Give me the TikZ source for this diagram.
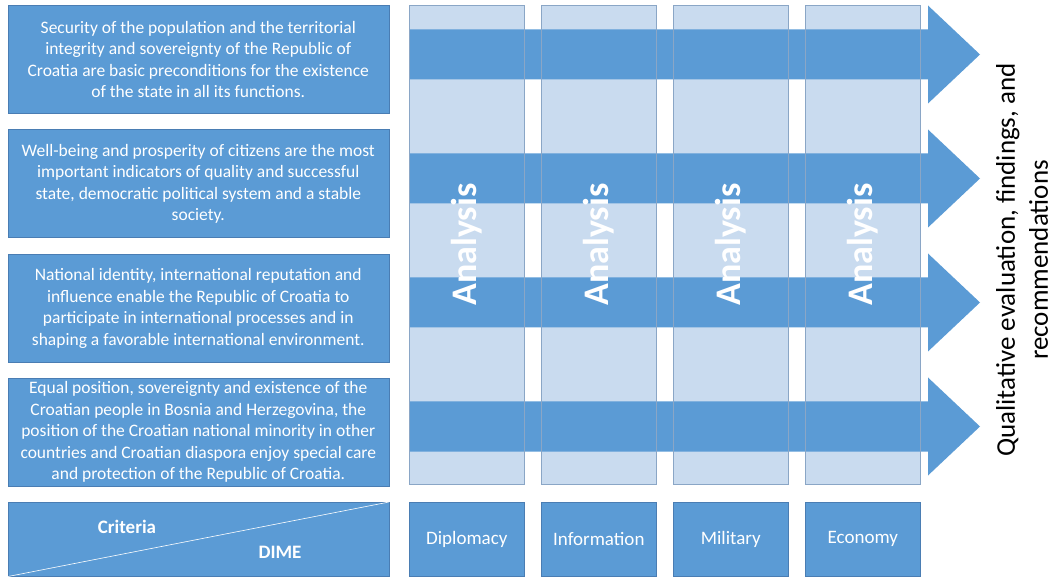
\documentclass[tikz,border=0pt]{standalone}
\usepackage{fontspec}
\setmainfont{Carlito}
\definecolor{boxblue}{HTML}{5B9BD5}
\definecolor{boxedge}{HTML}{4A7DB3}
\definecolor{colfill}{HTML}{C9DBEF}
\definecolor{coledge}{HTML}{8AA6C6}
\begin{document}
\begin{tikzpicture}[x=1pt,y=-1pt,
  crit/.style={draw=boxedge, line width=0.6pt, fill=boxblue, text=white,
    align=center, anchor=north west, minimum width=381pt, minimum height=108pt,
    inner sep=0pt, font=\fontsize{17.5}{21.5}\selectfont},
  column/.style={fill=colfill, draw=none, anchor=north west,
    minimum width=115pt, minimum height=479pt, inner sep=0pt},
  colline/.style={draw=coledge, line width=0.6pt},
  dime/.style={draw=boxedge, line width=0.6pt, fill=boxblue, text=white,
    anchor=north west, minimum width=115pt, minimum height=74pt, inner sep=0pt,
    font=\fontsize{19}{22}\selectfont},
  analysis/.style={rotate=90, text=white, font=\fontsize{36}{36}\selectfont\bfseries},
  band/.style={fill=boxblue}]
\useasboundingbox (0,0) rectangle (1053,577);

% criteria boxes
\node[crit] (c1) at (7.5,5) {Security of the population and the territorial\\integrity and sovereignty of the Republic of\\Croatia are basic preconditions for the existence\\of the state in all its functions.};
\node[crit] (c2) at (7.5,129.5) {Well-being and prosperity of citizens are the most\\important indicators of quality and successful\\state, democratic political system and a stable\\society.};
\node[crit] (c3) at (7.5,254) {National identity, international reputation and\\influence enable the Republic of Croatia to\\participate in international processes and in\\shaping a favorable international environment.};
\node[crit] (c4) at (7.5,378) {Equal position, sovereignty and existence of the\\Croatian people in Bosnia and Herzegovina, the\\position of the Croatian national minority in other\\countries and Croatian diaspora enjoy special care\\and protection of the Republic of Croatia.};

% corner box with diagonal split
\node[crit, minimum height=74pt] (corner) at (7.5,502) {};
\draw[white, line width=0.6pt] (corner.south west) -- (corner.north east);
\node[text=white, font=\fontsize{19}{22}\selectfont\bfseries] (crit) at (127,527) {Criteria};
\node[text=white, font=\fontsize{19}{22}\selectfont\bfseries] (dimelabel) at (280,552) {DIME};

% DIME columns
\node[column] (k1) at (409,5) {};
\node[column] (k2) at (541,5) {};
\node[column] (k3) at (673,5) {};
\node[column] (k4) at (805,5) {};

% criteria bands with arrow heads
\foreach \y in {54.5,178.5,302.5,426.5}
  \fill[band] (409,{\y-25}) -- (928,{\y-25}) -- (928,{\y-49}) -- (980,\y)
     -- (928,{\y+49}) -- (928,{\y+25}) -- (409,{\y+25}) -- cycle;

% column outlines and labels
\foreach \k in {k1,k2,k3,k4} {
  \draw[colline] (\k.north west) rectangle (\k.south east);
  \node[analysis] at (\k.center) {Analysis};
}

% DIME boxes
\node[dime] (d) at (409,502) {Diplomacy};
\node[dime] (i) at (541,502) {Information};
\node[dime] (m) at (673,502) {Military};
\node[dime] (e) at (805,502) {Economy};

% outcome
\node[rotate=90, align=center, inner sep=0pt, font=\fontsize{27}{33}\selectfont] (out) at (1022,260)
  {Qualitative evaluation, findings, and\\recommendations};
\end{tikzpicture}
\end{document}
